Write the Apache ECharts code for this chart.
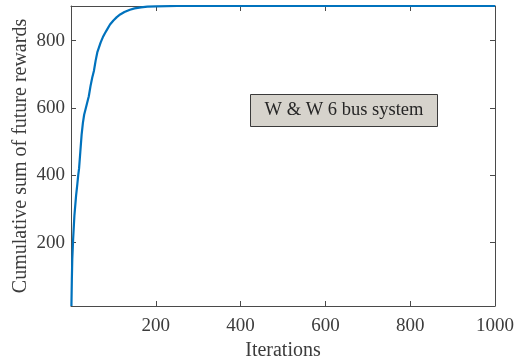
<!DOCTYPE html>
<html>
<head>
<meta charset="utf-8">
<script src="https://cdn.jsdelivr.net/npm/echarts@6/dist/echarts.min.js"></script>
<style>
  html, body { margin: 0; padding: 0; background: #fff; }
  #chart { width: 525px; height: 358px; }
</style>
</head>
<body>
<div id="chart"></div>
<script>
// Learning curve: cumulative sum of future rewards per training iteration
const iterations = [1, 2, 3, 5, 8, 12, 15, 17, 19, 22, 25, 28, 31, 34, 38, 42, 46, 50, 54, 58, 62, 66, 70, 75, 80, 86, 92, 100, 108, 116, 126, 139, 150, 165, 180, 200, 250, 300, 400, 500, 600, 700, 800, 900, 1000];
const rewards = [12, 90, 150, 210, 280, 340, 375, 400, 420, 470, 520, 555, 580, 595, 615, 635, 665, 690, 710, 740, 765, 780, 795, 810, 822, 835, 848, 860, 870, 878, 885, 892, 896, 899, 901, 902, 903, 903, 903, 903, 903, 903, 903, 903, 903];
const xTicks = [200, 400, 600, 800, 1000];
const yTicks = [200, 400, 600, 800];
const annotation = 'W & W 6 bus system';

const serif = '"Liberation Serif", "DejaVu Serif", serif';
const axisColor = '#4a4a4a';
const textColor = '#3c3c3c';

const chart = echarts.init(document.getElementById('chart'), null, { renderer: 'canvas' });

function xAxisDef(pos, showLabel) {
  return {
    type: 'value', position: pos, min: 0, max: 1000,
    name: showLabel ? 'Iterations' : '', nameLocation: 'middle', nameGap: 35,
    nameTextStyle: { fontFamily: serif, fontSize: 20, color: textColor },
    axisLine: { show: true, onZero: false, lineStyle: { color: axisColor, width: 1 } },
    axisTick: { show: true, inside: true, length: 5, customValues: xTicks, lineStyle: { color: axisColor } },
    axisLabel: { show: showLabel, customValues: xTicks, margin: 11, fontFamily: serif, fontSize: 19, color: textColor,
      formatter: v => String(v) },
    splitLine: { show: false }
  };
}
function yAxisDef(pos, showLabel) {
  return {
    type: 'value', position: pos, min: 12, max: 903,
    name: showLabel ? 'Cumulative sum of future rewards' : '', nameLocation: 'middle', nameGap: 40,
    nameMoveOverlap: false,
    nameTextStyle: { fontFamily: serif, fontSize: 20, color: textColor },
    axisLine: { show: true, onZero: false, lineStyle: { color: axisColor, width: 1 } },
    axisTick: { show: true, inside: true, length: 5, customValues: yTicks, lineStyle: { color: axisColor } },
    axisLabel: { show: showLabel, customValues: yTicks, margin: 6, fontFamily: serif, fontSize: 19, color: textColor,
      formatter: v => String(v) },
    splitLine: { show: false }
  };
}

chart.setOption({
  animation: false,
  backgroundColor: '#ffffff',
  grid: { left: 71, right: 30, top: 6, bottom: 52, containLabel: false, outerBoundsMode: 'none' },
  xAxis: [xAxisDef('bottom', true), xAxisDef('top', false)],
  yAxis: [yAxisDef('left', true), yAxisDef('right', false)],
  series: [{
    type: 'line',
    data: iterations.map((it, i) => [it, rewards[i]]),
    showSymbol: false,
    smooth: false,
    lineStyle: { color: '#0072BD', width: 2.2 },
    clip: true
  }],
  graphic: [{
    type: 'group',
    left: 250, top: 94,
    children: [
      { type: 'rect', shape: { x: 0, y: 0, width: 187, height: 32 },
        style: { fill: '#d6d3cc', stroke: '#3a3a3a', lineWidth: 1 } },
      { type: 'text', x: 93.5, y: 16,
        style: { text: annotation, font: '18.5px ' + serif, fill: '#262626', align: 'center', verticalAlign: 'middle' } }
    ]
  }]
});
</script>
</body>
</html>
